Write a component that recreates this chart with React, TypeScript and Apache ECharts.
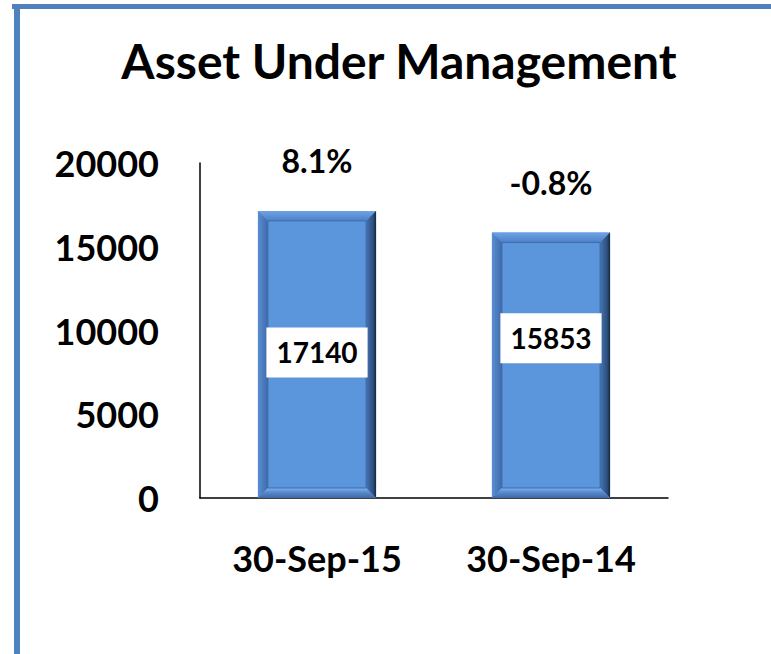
import React, { useEffect, useRef } from "react";
import * as echarts from "echarts";

const categories = ["30-Sep-15", "30-Sep-14"];
const aumValues = [17140, 15853];
const growthLabels = ["8.1%", "-0.8%"];
const yTicks = { min: 0, max: 20000, interval: 5000 };

const FONT = "Lato, 'Open Sans', sans-serif";
const valueLabelShift = [-2, -27];

export default function App() {
  const ref = useRef<HTMLDivElement>(null);
  useEffect(() => {
    document.body.style.margin = "0";
    const chart = echarts.init(ref.current!, null, { renderer: "svg" });
    const renderItem = (params: any, api: any) => {
      const idx = api.value(0);
      const v = api.value(1);
      const top = api.coord([idx, v]);
      const base = api.coord([idx, 0]);
      const bw = api.size([1, 0])[0] * 0.505;
      const x0 = top[0] - bw / 2;
      const x1 = top[0] + bw / 2;
      const y0 = top[1];
      const y1 = base[1];
      const b = 10;
      const cx = (x0 + x1) / 2;
      const cy = (y0 + y1) / 2 + valueLabelShift[params.dataIndex];
      return {
        type: "group",
        children: [
          { type: "rect", shape: { x: x0, y: y0, width: x1 - x0, height: y1 - y0 }, style: { fill: "#5B96DD" } },
          {
            type: "polygon",
            shape: { points: [[x0, y0], [x1, y0], [x1 - b, y0 + b], [x0 + b, y0 + b]] },
            style: { fill: new echarts.graphic.LinearGradient(0, 0, 0, 1, [{ offset: 0, color: "#6FA3E6" }, { offset: 1, color: "#4D7FC4" }]) },
          },
          {
            type: "polygon",
            shape: { points: [[x0, y0], [x0 + b, y0 + b], [x0 + b, y1 - b], [x0, y1]] },
            style: { fill: new echarts.graphic.LinearGradient(0, 0, 1, 0, [{ offset: 0, color: "#5A8ED3" }, { offset: 1, color: "#3E6AA8" }]) },
          },
          {
            type: "polygon",
            shape: { points: [[x1, y0], [x1, y1], [x1 - b, y1 - b], [x1 - b, y0 + b]] },
            style: { fill: new echarts.graphic.LinearGradient(0, 0, 1, 0, [{ offset: 0, color: "#4574B3" }, { offset: 0.7, color: "#2D507F" }, { offset: 1, color: "#16263D" }]) },
          },
          {
            type: "polygon",
            shape: { points: [[x0, y1], [x0 + b, y1 - b], [x1 - b, y1 - b], [x1, y1]] },
            style: { fill: new echarts.graphic.LinearGradient(0, 0, 0, 1, [{ offset: 0, color: "#7FB5F2" }, { offset: 0.4, color: "#5A8CCF" }, { offset: 1, color: "#3F68A3" }]) },
          },
          {
            type: "rect",
            shape: { x: x0 + b, y: y0 + b, width: x1 - x0 - 2 * b, height: y1 - y0 - 2 * b },
            style: { fill: "none", stroke: "#3F6BAA", lineWidth: 1 },
          },
          {
            type: "text",
            x: cx,
            y: cy,
            style: {
              text: String(v),
              fontFamily: FONT,
              fontWeight: "bold",
              fontSize: 28,
              fill: "#000",
              align: "center",
              verticalAlign: "middle",
              backgroundColor: "#fff",
              padding: [11, 10, 11, 10],
            },
          },
        ],
      };
    };
    chart.setOption({
      animation: false,
      backgroundColor: "#fff",
      grid: { left: 200, right: 103, top: 163, bottom: 156 },
      graphic: [
        { type: "rect", shape: { x: 12, y: 4, width: 759, height: 5 }, style: { fill: "#4F81BD" } },
        { type: "rect", shape: { x: 14, y: 4, width: 6, height: 650 }, style: { fill: "#4F81BD" } },
        {
          type: "text",
          x: 399,
          y: 60,
          style: {
            text: "Asset Under Management",
            fontFamily: FONT,
            fontWeight: "bold",
            fontSize: 48,
            fill: "#000",
            align: "center",
            verticalAlign: "middle",
          },
        },
      ],
      xAxis: {
        type: "category",
        data: categories,
        axisLine: { show: true, lineStyle: { color: "#000", width: 1.5 } },
        axisTick: { show: false },
        axisLabel: { margin: 42, fontFamily: FONT, fontWeight: "bold", fontSize: 36, color: "#000" },
      },
      yAxis: {
        type: "value",
        min: yTicks.min,
        max: yTicks.max,
        interval: yTicks.interval,
        axisLine: { show: true, lineStyle: { color: "#000", width: 1.5 } },
        axisTick: { show: false },
        splitLine: { show: false },
        axisLabel: {
          margin: 41,
          formatter: (v: number) => String(v),
          fontFamily: FONT,
          fontWeight: "bold",
          fontSize: 36,
          color: "#000",
        },
      },
      series: [
        {
          type: "custom",
          renderItem,
          data: aumValues.map((v, i) => [i, v]),
          encode: { x: 0, y: 1 },
          z: 2,
        },
        {
          type: "bar",
          data: aumValues,
          barWidth: "50%",
          itemStyle: { color: "rgba(0,0,0,0)" },
          z: 3,
          label: {
            show: true,
            position: "top",
            distance: 34,
            formatter: (p: any) => growthLabels[p.dataIndex],
            fontFamily: FONT,
            fontWeight: "bold",
            fontSize: 32,
            color: "#000",
          },
        },
      ],
    });
    return () => chart.dispose();
  }, []);
  return <div ref={ref} style={{ position: "absolute", left: 0, top: 0, width: 771, height: 654 }} />;
}
